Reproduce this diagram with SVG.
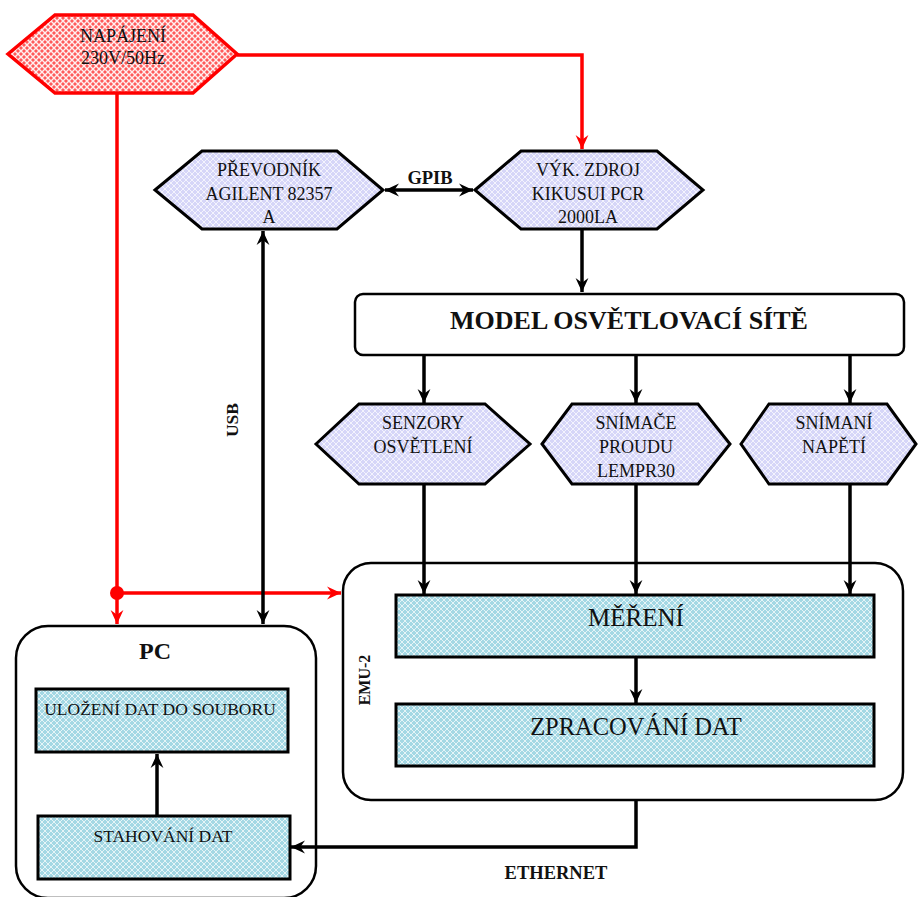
<svg xmlns="http://www.w3.org/2000/svg" width="918" height="897" viewBox="0 0 918 897">
<style>
text{font-family:"Liberation Serif","Times New Roman",serif;fill:#111;text-anchor:middle}
.hex{fill:url(#pLav);stroke:#000;stroke-width:3;stroke-linejoin:miter}
.box{fill:url(#pBlue);stroke:#000;stroke-width:3}
.cont{fill:#fff;stroke:#000;stroke-width:2.5}
.c{fill:none;stroke:#000;stroke-width:3.5}
.r{fill:none;stroke:#f00;stroke-width:3.5}
.t{font-size:18px}
.tb{font-size:17.5px}
.b{font-weight:bold}
</style>
<defs>
<pattern id="pLav" width="6" height="6" patternUnits="userSpaceOnUse">
<rect width="6" height="6" fill="#d6d6f8"/>
<path d="M0,0L6,6M6,0L0,6" stroke="#fff" stroke-width="0.9" opacity="0.8"/>
</pattern>
<pattern id="pBlue" width="6" height="6" patternUnits="userSpaceOnUse">
<rect width="6" height="6" fill="#a4d8e4"/>
<path d="M0,0L6,6M6,0L0,6" stroke="#fff" stroke-width="0.9" opacity="0.8"/>
</pattern>
<pattern id="pRed" width="6" height="6" patternUnits="userSpaceOnUse">
<rect width="6" height="6" fill="#ff5a5a"/>
<path d="M0,0L6,6M6,0L0,6" stroke="#fff" stroke-width="1.4" opacity="0.9"/>
</pattern>
<marker id="ak" viewBox="0 0 12 12" refX="12" refY="6" markerWidth="14" markerHeight="14" markerUnits="userSpaceOnUse" orient="auto-start-reverse">
<path d="M0,0.5L12,6L0,11.5L4,6z" fill="#000"/>
</marker>
<marker id="ar" viewBox="0 0 12 12" refX="12" refY="6" markerWidth="14" markerHeight="14" markerUnits="userSpaceOnUse" orient="auto-start-reverse">
<path d="M0,0.5L12,6L0,11.5L4,6z" fill="#f00"/>
</marker>
</defs>

<g id="napajeni">
<polygon points="8,54 55,15 193,15 237,54 193,93 55,93" fill="url(#pRed)" stroke="#f00" stroke-width="3.5"/>
<text class="t" x="123" y="42">NAPÁJENÍ</text>
<text class="t" x="123" y="64">230V/50Hz</text>
</g>

<g id="prevodnik">
<polygon class="hex" points="155,190 202,151 337,151 383,190 337,229 202,229"/>
<text class="t" x="269" y="176">PŘEVODNÍK</text>
<text class="t" x="269" y="200">AGILENT 82357</text>
<text class="t" x="269" y="223">A</text>
</g>

<g id="zdroj">
<polygon class="hex" points="475,190 521,151 657,151 703,190 657,229 521,229"/>
<text class="t" x="588" y="176">VÝK. ZDROJ</text>
<text class="t" x="588" y="200">KIKUSUI PCR</text>
<text class="t" x="588" y="223">2000LA</text>
</g>

<g id="model">
<rect x="355" y="294" width="549" height="61" rx="8" fill="#fff" stroke="#000" stroke-width="2.5"/>
<text class="b" x="629" y="329" font-size="26">MODEL OSVĚTLOVACÍ SÍTĚ</text>
</g>

<g id="senzory">
<polygon class="hex" points="316,444 359,404 485,404 530,444 485,484 359,484"/>
<text class="t" x="423" y="429">SENZORY</text>
<text class="t" x="423" y="453">OSVĚTLENÍ</text>
</g>

<g id="snimace">
<polygon class="hex" points="542,444 572,404 698,404 730,444 698,484 572,484"/>
<text class="t" x="636" y="429">SNÍMAČE</text>
<text class="t" x="636" y="453">PROUDU</text>
<text class="t" x="636" y="477">LEMPR30</text>
</g>

<g id="snimani">
<polygon class="hex" points="741,444 769,404 887,404 916,444 887,484 769,484"/>
<text class="t" x="834" y="429">SNÍMANÍ</text>
<text class="t" x="834" y="453">NAPĚTÍ</text>
</g>

<g id="emu2">
<rect class="cont" x="343" y="563" width="560" height="237" rx="28"/>
<text class="b" x="364" y="686" font-size="16" transform="rotate(-90 364 680)">EMU-2</text>
</g>

<g id="mereni">
<rect class="box" x="396" y="595" width="478" height="62"/>
<text x="636" y="626" font-size="25">MĚŘENÍ</text>
</g>

<g id="zpracovani">
<rect class="box" x="396" y="704" width="478" height="62"/>
<text x="636" y="735" font-size="24.5">ZPRACOVÁNÍ DAT</text>
</g>

<g id="pc">
<rect class="cont" x="16" y="626" width="300" height="272" rx="32"/>
<text class="b" x="155" y="659" font-size="24">PC</text>
</g>

<g id="ulozeni">
<rect class="box" x="36" y="689" width="252" height="63"/>
<text class="tb" x="160" y="715">ULOŽENÍ DAT DO SOUBORU</text>
</g>

<g id="stahovani">
<rect class="box" x="38" y="816" width="252" height="63"/>
<text class="tb" x="163" y="842">STAHOVÁNÍ DAT</text>
</g>

<g id="edges">
<path class="r" d="M237,55H582V149" marker-end="url(#ar)"/>
<path class="r" d="M117,93V624" marker-end="url(#ar)"/>
<path class="r" d="M117,593H341" marker-end="url(#ar)"/>
<circle cx="117" cy="593" r="7" fill="#f00"/>
<path class="c" d="M385,190H473" marker-start="url(#ak)" marker-end="url(#ak)"/>
<path class="c" d="M263,231V624" marker-start="url(#ak)" marker-end="url(#ak)"/>
<path class="c" d="M582,229V292" marker-end="url(#ak)"/>
<path class="c" d="M424,355V403" marker-end="url(#ak)"/>
<path class="c" d="M636,355V403" marker-end="url(#ak)"/>
<path class="c" d="M850,355V403" marker-end="url(#ak)"/>
<path class="c" d="M424,484V594" marker-end="url(#ak)"/>
<path class="c" d="M636,484V594" marker-end="url(#ak)"/>
<path class="c" d="M850,484V594" marker-end="url(#ak)"/>
<path class="c" d="M636,657V703" marker-end="url(#ak)"/>
<path class="c" d="M636,800V847H291" marker-end="url(#ak)"/>
<path class="c" d="M157,815V754" marker-end="url(#ak)"/>
<text class="b" x="430" y="184" font-size="18.5">GPIB</text>
<text class="b" x="232" y="426" font-size="17.5" transform="rotate(-90 232 420)">USB</text>
<text class="b" x="556" y="879" font-size="18.5">ETHERNET</text>
</g>
</svg>
